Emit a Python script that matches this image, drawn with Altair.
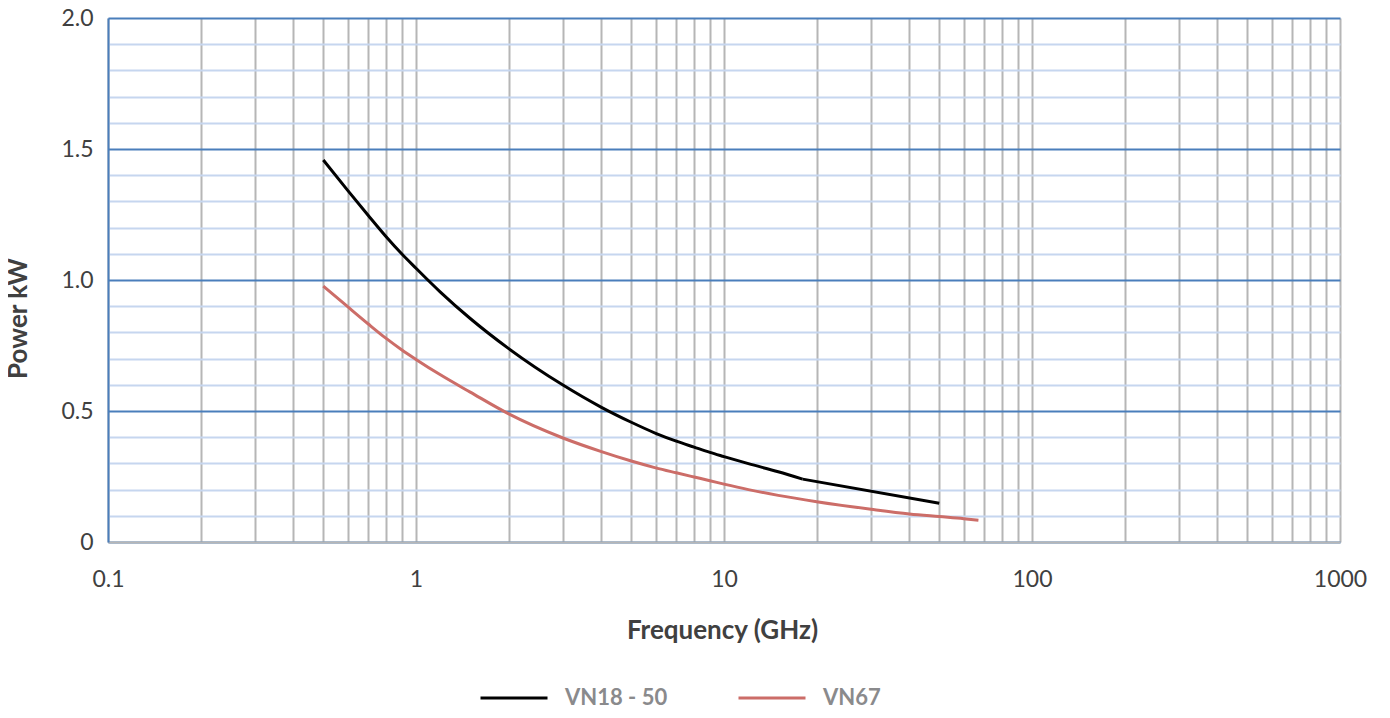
import altair as alt
import pandas as pd

# Series data
vn18_freq = [0.5, 0.6, 0.7, 0.8, 0.9, 1, 1.2, 1.5, 2, 3, 4, 5, 6, 7, 8, 9, 10, 12, 15, 18]
vn18_power = [1.458, 1.342, 1.246, 1.165, 1.099, 1.045, 0.954, 0.853, 0.738, 0.599, 0.514, 0.457,
              0.415, 0.385, 0.362, 0.342, 0.326, 0.299, 0.268, 0.24]
# straight final segment of VN18 - 50 (18 GHz to 50 GHz)
vn18_tail_freq = [18, 50]
vn18_tail_power = [0.24, 0.148]

vn67_freq = [0.5, 0.6, 0.7, 0.8, 0.9, 1, 1.2, 1.5, 2, 3, 4, 5, 6, 7, 8, 9, 10, 12, 15, 20, 30, 40, 50, 60, 67]
vn67_power = [0.977, 0.898, 0.832, 0.777, 0.733, 0.697, 0.638, 0.572, 0.489, 0.397, 0.345, 0.309,
              0.283, 0.264, 0.248, 0.234, 0.221, 0.2, 0.178, 0.154, 0.125, 0.107, 0.097, 0.089, 0.083]

series_names = ["VN18 - 50", "VN67"]
series_colors = ["#000000", "#cc6d68"]

# Axis tick / grid values
x_grid = [0.1, 0.2, 0.3, 0.4, 0.5, 0.6, 0.7, 0.8, 0.9,
          1, 2, 3, 4, 5, 6, 7, 8, 9,
          10, 20, 30, 40, 50, 60, 70, 80, 90,
          100, 200, 300, 400, 500, 600, 700, 800, 900, 1000]
y_grid = [0, 0.1, 0.2, 0.3, 0.4, 0.5, 0.6, 0.7, 0.8, 0.9, 1.0,
          1.1, 1.2, 1.3, 1.4, 1.5, 1.6, 1.7, 1.8, 1.9, 2.0]

df = pd.concat([
    pd.DataFrame({"series": series_names[0], "freq": vn18_freq, "power": vn18_power}),
    pd.DataFrame({"series": series_names[1], "freq": vn67_freq, "power": vn67_power}),
])
df_tail = pd.DataFrame({"series": series_names[0], "freq": vn18_tail_freq, "power": vn18_tail_power})

FONT = "Lato"
TXT = "#404040"

x_enc = alt.X("freq:Q",
              scale=alt.Scale(type="log", domain=[0.1, 1000], nice=False),
              axis=alt.Axis(
                  values=x_grid,
                  format="~g",
                  labelExpr="abs(log(datum.value)/LN10 - round(log(datum.value)/LN10)) < 1e-6 ? datum.label : ''",
                  labelOverlap=False,
                  labelFlush=False,
                  ticks=False,
                  labelPadding=26,
                  labelFontSize=23,
                  labelColor=TXT,
                  labelFont=FONT,
                  grid=True,
                  gridColor="#b6b6b6",
                  gridWidth=2,
                  domainColor="#b6b6b6",
                  domainWidth=2,
                  title="Frequency (GHz)",
                  titleFont=FONT,
                  titleFontSize=26,
                  titleFontWeight="bold",
                  titleColor=TXT,
                  titleX=614,
                  titleY=88,
                  titleBaseline="middle",
                  titleAlign="center",
              ))
y_enc = alt.Y("power:Q",
              scale=alt.Scale(domain=[0, 2.0], nice=False, zero=True),
              axis=alt.Axis(
                  values=y_grid,
                  labelExpr="abs(datum.value*2 - round(datum.value*2)) < 1e-6 ? (datum.value == 0 ? '0' : format(datum.value, '.1f')) : ''",
                  labelOverlap=False,
                  labelFlush=False,
                  ticks=False,
                  labelPadding=15,
                  labelFontSize=23,
                  labelColor=TXT,
                  labelFont=FONT,
                  grid=True,
                  gridColor={"condition": {"test": "abs(datum.value*2 - round(datum.value*2)) < 1e-6", "value": "#4a7ebb"}, "value": "#c6d6ef"},
                  gridWidth=2,
                  domainColor="#4a7ebb",
                  domainWidth=2,
                  title="Power kW",
                  titleFont=FONT,
                  titleFontSize=26,
                  titleFontWeight="bold",
                  titleColor=TXT,
                  titleX=-90,
                  titleY=300,
                  titleAngle=-90,
                  titleBaseline="middle",
                  titleAlign="center",
              ))
color_enc = alt.Color("series:N",
                      scale=alt.Scale(domain=series_names, range=series_colors),
                      legend=alt.Legend(
                          title=None,
                          orient="none",
                          direction="horizontal",
                          legendX=371,
                          legendY=645,
                          symbolType="stroke",
                          symbolSize=4489,
                          symbolStrokeWidth=3,
                          labelFont=FONT,
                          labelFontSize=22,
                          labelFontWeight="bold",
                          labelColor="#8a8a8c",
                          labelOffset=16,
                          columnPadding=64,
                      ))

curves = alt.Chart(df).mark_line(strokeWidth=3, interpolate="monotone").encode(
    x=x_enc, y=y_enc, color=color_enc)
tail = alt.Chart(df_tail).mark_line(strokeWidth=3, interpolate="linear").encode(
    x=x_enc, y=y_enc, color=color_enc)

chart = alt.layer(curves, tail).properties(
    width=1232,
    height=524,
    padding={"left": 100, "top": 10, "right": 30, "bottom": 168},
    autosize=alt.AutoSizeParams(type="none"),
).configure_view(stroke=None)

chart.save("out.html", embed_options={"renderer": "svg", "actions": False})
